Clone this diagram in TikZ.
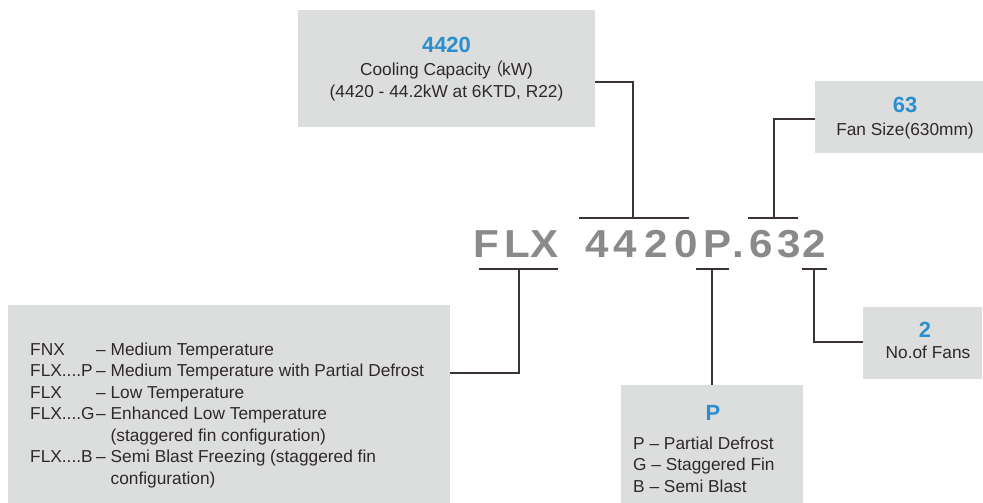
\documentclass[tikz,border=0pt]{standalone}
\usepackage{fontspec}
\setmainfont{Liberation Sans}
\newfontfamily\cjk{Noto Sans CJK SC}
\definecolor{boxgray}{HTML}{DCDDDD}
\definecolor{txtc}{HTML}{302828}
\definecolor{numblue}{HTML}{2B8FCF}
\definecolor{biggray}{HTML}{8A8A8A}
\definecolor{linec}{HTML}{3C3434}
\begin{document}
\begin{tikzpicture}[x=1pt,y=-1pt,
  box/.style={fill=boxgray, draw=none, inner sep=0pt, outer sep=0pt, anchor=north west},
  lbl/.style={font=\fontsize{17.3}{21.5}\selectfont, text=txtc, inner sep=0pt, anchor=base},
  num/.style={font=\fontsize{22}{24}\selectfont\bfseries, text=numblue, inner sep=0pt, anchor=base},
  big/.style={font=\fontsize{39}{39}\selectfont\bfseries, text=biggray, inner sep=0pt, anchor=base},
  conn/.style={draw=linec, line width=1.1pt}]
\useasboundingbox (0,0) rectangle (983,503);

% boxes
\node[box, minimum width=297pt, minimum height=117pt] (topbox) at (298,10) {};
\node[box, minimum width=168pt, minimum height=72pt] (fanbox) at (815,81) {};
\node[box, minimum width=442pt, minimum height=198pt] (typebox) at (8,305) {};
\node[box, minimum width=182pt, minimum height=118pt] (pbox) at (621,385) {};
\node[box, minimum width=119pt, minimum height=72pt] (nbox) at (863,307) {};

% top box texts
\node[num] (tnum) at (446.5,53) {4420};
\node[lbl] (tl1) at (446.5,76) {Cooling Capacity{\cjk\kern-4pt（\kern-2pt}kW)};
\node[lbl] (tl2) at (446.5,97) {(4420 - 44.2kW at 6KTD, R22)};

% fan box texts
\node[num] (fnum) at (905,112) {63};
\node[lbl] (fl1) at (905,135) {Fan Size(630mm)};

% number of fans
\node[num] (nnum) at (925,337) {2};
\node[lbl] (nl1) at (928,358) {No.of Fans};

% P box
\node[num] (pnum) at (713,420) {P};
\node[lbl, anchor=base west] (plist) at (633,449) {\begin{tabular}[t]{@{}l@{}}
P -- Partial Defrost\\
G -- Staggered Fin\\
B -- Semi Blast
\end{tabular}};

% type box
\node[lbl, anchor=base west] (tlist) at (30,355) {\begin{tabular}[t]{@{}p{66pt}@{}l@{}}
FNX & -- Medium Temperature\\
FLX....P & -- Medium Temperature with Partial Defrost\\
FLX & -- Low Temperature\\
FLX....G & -- Enhanced Low Temperature\\
 & \phantom{-- }(staggered fin configuration)\\
FLX....B & -- Semi Blast Freezing (staggered fin\\
 & \phantom{-- }configuration)
\end{tabular}};

% big model code
\node[big] (c1) at (486,257) {\scalebox{1.08}[1]{F}};
\node[big] (c2) at (517,257) {\scalebox{1.08}[1]{L}};
\node[big] (c3) at (544.5,257) {\scalebox{1.08}[1]{X}};
\node[big] (c4) at (597,257) {\scalebox{1.08}[1]{4}};
\node[big] (c5) at (625.5,257) {\scalebox{1.08}[1]{4}};
\node[big] (c6) at (656.5,257) {\scalebox{1.08}[1]{2}};
\node[big] (c7) at (686,257) {\scalebox{1.08}[1]{0}};
\node[big] (c8) at (717.5,257) {\scalebox{1.08}[1]{P}};
\node[big] (c9) at (738.5,257) {\scalebox{1.08}[1]{.}};
\node[big] (c10) at (761,257) {\scalebox{1.08}[1]{6}};
\node[big] (c11) at (789,257) {\scalebox{1.08}[1]{3}};
\node[big] (c12) at (814,257) {\scalebox{1.08}[1]{2}};

% connector coordinates
\coordinate (j1) at (633,82);
\coordinate (b1) at (633,218);
\coordinate (b1l) at (579,218);
\coordinate (b1r) at (689,218);

\coordinate (j2) at (774,119);
\coordinate (b2) at (774,218);
\coordinate (b2l) at (748,218);
\coordinate (b2r) at (798,218);

\coordinate (b3) at (519,269);
\coordinate (b3l) at (479,269);
\coordinate (b3r) at (558,269);
\coordinate (j3) at (519,373);

\coordinate (b4) at (712,269);
\coordinate (b4l) at (696,269);
\coordinate (b4r) at (729,269);

\coordinate (b5) at (814,269);
\coordinate (b5l) at (802,269);
\coordinate (b5r) at (827,269);
\coordinate (j5) at (814,342);

% connectors
\draw[conn] (topbox.east |- j1) -- (j1) -- (b1);
\draw[conn] (b1l) -- (b1r);
\draw[conn] (fanbox.west |- j2) -- (j2) -- (b2);
\draw[conn] (b2l) -- (b2r);
\draw[conn] (b3l) -- (b3r);
\draw[conn] (b3) -- (j3) -- (typebox.east |- j3);
\draw[conn] (b4l) -- (b4r);
\draw[conn] (b4) -- (pbox.north -| b4);
\draw[conn] (b5l) -- (b5r);
\draw[conn] (b5) -- (j5) -- (nbox.west |- j5);
\end{tikzpicture}
\end{document}
